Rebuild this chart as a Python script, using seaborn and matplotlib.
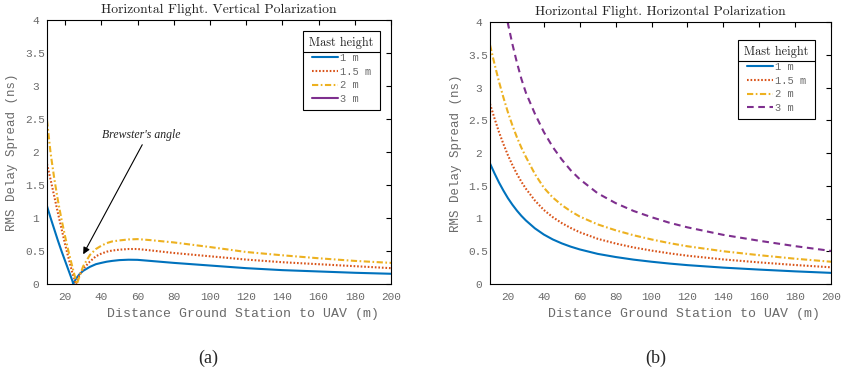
import matplotlib
matplotlib.use("Agg")
import matplotlib.pyplot as plt
from matplotlib.lines import Line2D
import seaborn as sns

# ---- data ----
HEIGHTS = ["1 m", "1.5 m", "2 m", "3 m"]

# (a) vertical polarization
VP_X_1M = [10, 12, 14, 16, 18, 20, 22, 24, 24.5, 26, 28, 30, 33.7, 37, 40, 43, 46, 50, 55, 60,
           67, 80, 100, 120, 140, 160, 180, 200]
VP_1M = [1.18, 1.0, 0.83, 0.66, 0.5, 0.35, 0.2, 0.05, 0.0, 0.08, 0.15, 0.2, 0.26, 0.3, 0.32, 0.338,
         0.35, 0.362, 0.368, 0.366, 0.35, 0.32, 0.28, 0.24, 0.21, 0.19, 0.17, 0.155]
VP_X_15M = [10, 12, 14, 16, 18, 20, 22, 24, 26, 28, 30, 33.7, 37, 40, 43, 46, 50, 55, 60, 67, 80,
            100, 120, 140, 160, 180, 200]
VP_15M = [1.82, 1.58, 1.33, 1.08, 0.84, 0.6, 0.38, 0.17, 0.0, 0.14, 0.23, 0.34, 0.42, 0.46, 0.49,
          0.507, 0.52, 0.53, 0.53, 0.51, 0.47, 0.42, 0.37, 0.33, 0.30, 0.27, 0.24]
VP_X_2M = [10, 12, 14, 16, 18, 20, 22, 24, 26.5, 28, 30, 33.7, 37, 40, 43, 46, 50, 55, 60, 67, 80,
           100, 120, 140, 160, 180, 200]
VP_2M = [2.48, 1.98, 1.6, 1.27, 0.98, 0.72, 0.48, 0.26, 0.0, 0.12, 0.27, 0.44, 0.53, 0.58, 0.62,
         0.645, 0.66, 0.675, 0.68, 0.665, 0.63, 0.56, 0.485, 0.435, 0.39, 0.35, 0.32]
VP_X_3M = []
VP_3M = []

# (b) horizontal polarization
HP_X = [10, 12.5, 15, 17.5, 20, 22.5, 25, 27.5, 30, 35, 40, 45, 50, 55, 60, 70, 80, 90, 100,
        110, 120, 140, 160, 180, 200]
HP_1M = [1.84, 1.69, 1.55, 1.425, 1.31, 1.21, 1.12, 1.04, 0.97, 0.85, 0.755, 0.68, 0.62, 0.57,
         0.528, 0.46, 0.412, 0.372, 0.34, 0.312, 0.288, 0.25, 0.22, 0.193, 0.17]
HP_15M = [2.75, 2.53, 2.32, 2.135, 1.965, 1.815, 1.68, 1.56, 1.455, 1.275, 1.13, 1.02, 0.93,
          0.855, 0.79, 0.69, 0.618, 0.558, 0.51, 0.468, 0.432, 0.375, 0.33, 0.29, 0.255]
HP_2M = [3.65, 3.36, 3.09, 2.845, 2.62, 2.42, 2.24, 2.08, 1.94, 1.68, 1.47, 1.32, 1.205, 1.11,
         1.03, 0.91, 0.82, 0.744, 0.68, 0.624, 0.576, 0.50, 0.44, 0.386, 0.34]
HP_X_3M = [19.8, 22.5, 25, 27.5, 30, 35, 40, 45, 50, 55, 60, 70, 80, 90, 100, 110, 120, 140,
           160, 180, 200]
HP_3M = [4.0, 3.66, 3.38, 3.13, 2.92, 2.6, 2.32, 2.09, 1.9, 1.735, 1.60, 1.385, 1.235, 1.115,
         1.02, 0.935, 0.865, 0.75, 0.66, 0.578, 0.505]

X_TICKS = [20, 40, 60, 80, 100, 120, 140, 160, 180, 200]
Y_TICKS = [0, 0.5, 1, 1.5, 2, 2.5, 3, 3.5, 4]

COLORS = ["#0072BD", "#D95319", "#EDB120", "#7E2F8E"]
DOT = (0, (0.8, 0.9))
DASHDOT = (0, (3, 1.2, 0.8, 1.2))
DASH = (0, (3.2, 2.2))
STYLES_A = ["-", DOT, DASHDOT, "-"]
STYLES_B = ["-", DOT, DASHDOT, DASH]

MONO = "Liberation Mono"
GRAY = "#6a6a6a"
CMR = ["cmr10", "Liberation Serif"]

sns.set_theme(style="white")
plt.rcParams["font.family"] = ["DejaVu Sans"]

fig = plt.figure(figsize=(8.5, 3.75), dpi=100)
W, H = 850, 375
ax_a = fig.add_axes([47 / W, 1 - 284 / H, 344 / W, 264 / H])
ax_b = fig.add_axes([490 / W, 1 - 284 / H, 341 / W, 262 / H])

series_a = [(VP_X_1M, VP_1M), (VP_X_15M, VP_15M), (VP_X_2M, VP_2M), (VP_X_3M, VP_3M)]
series_b = [(HP_X, HP_1M), (HP_X, HP_15M), (HP_X, HP_2M), (HP_X_3M, HP_3M)]


def draw(ax, series, styles, title, anchor, ylabel_x):
    handles = []
    for (xs, ys), name, c, ls in zip(series, HEIGHTS, COLORS, styles):
        if xs:
            sns.lineplot(x=xs, y=ys, ax=ax, color=c, linestyle=ls, lw=1.5, sort=False)
        handles.append(Line2D([], [], color=c, linestyle=ls, lw=1.5, label=name))
    ax.set_xlim(10, 200)
    ax.set_ylim(0, 4)
    ax.set_xticks(X_TICKS, labels=[str(v) for v in X_TICKS])
    ax.set_yticks(Y_TICKS, labels=[f"{v:g}" for v in Y_TICKS], ha="center")
    ax.tick_params(axis="both", direction="in", top=True, right=True, length=3.5, width=0.8,
                   labelsize=8, labelcolor=GRAY, color="black")
    ax.tick_params(axis="x", pad=6)
    ax.tick_params(axis="y", pad=8.3)
    for lab in ax.get_xticklabels() + ax.get_yticklabels():
        lab.set_fontfamily(MONO)
    for s in ax.spines.values():
        s.set_visible(True)
        s.set_color("black")
        s.set_linewidth(0.8)
    ax.set_title(title, fontfamily=CMR, fontsize=9.8, pad=5, color="#222222")
    ax.set_xlabel("Distance Ground Station to UAV (m)", fontfamily=MONO, fontsize=9.5, color=GRAY)
    ax.set_ylabel("RMS Delay Spread (ns)", fontfamily=MONO, fontsize=9, color=GRAY)
    ax.xaxis.set_label_coords(0.57, -0.114)
    ax.xaxis.label.set_va("center")
    ax.yaxis.set_label_coords(ylabel_x, 0.5)
    ax.yaxis.label.set_va("center")
    leg = ax.legend(handles=handles, title="Mast height", loc="upper right", bbox_to_anchor=anchor,
                    borderaxespad=0, fancybox=False, framealpha=1, edgecolor="black",
                    prop={"family": MONO, "size": 7.5},
                    title_fontproperties={"family": CMR, "size": 8.8},
                    handlelength=2.5, handletextpad=0.15, labelspacing=0.35, borderpad=0.6)
    leg.get_frame().set_linewidth(0.8)
    for t in leg.get_texts():
        t.set_color(GRAY)
    leg.get_title().set_color("#222222")
    return leg


leg_a = draw(ax_a, series_a, STYLES_A, "Horizontal Flight. Vertical Polarization",
             (0.968, 0.958), -35 / 344)
leg_b = draw(ax_b, series_b, STYLES_B, "Horizontal Flight. Horizontal Polarization",
             (0.953, 0.931), -34 / 341)

ax_a.annotate("", xy=(30, 0.45), xytext=(62.6, 2.11),
              arrowprops=dict(arrowstyle="-|>", color="black", lw=0.8, mutation_scale=10,
                              shrinkA=0, shrinkB=0))
ax_a.text(62.3, 2.26, "Brewster's angle", fontfamily="Liberation Serif", fontstyle="italic",
          fontsize=8.5, ha="center", va="center", color="#222222")

fig.text(208 / W, 1 - 358 / H, "(a)", fontfamily="Liberation Serif", fontsize=13, ha="center", va="center")
fig.text(656 / W, 1 - 358 / H, "(b)", fontfamily="Liberation Serif", fontsize=13, ha="center", va="center")

# separator line under the legend titles (MATLAB style)
fig.canvas.draw()
for leg in (leg_a, leg_b):
    fb = leg.get_frame().get_window_extent()
    tb = leg.get_title().get_window_extent()
    y = (tb.y0 - 2.5) / H
    fig.add_artist(Line2D([fb.x0 / W, fb.x1 / W], [y, y], transform=fig.transFigure,
                          color="black", lw=0.8))

fig.savefig("out.png", dpi=100)
